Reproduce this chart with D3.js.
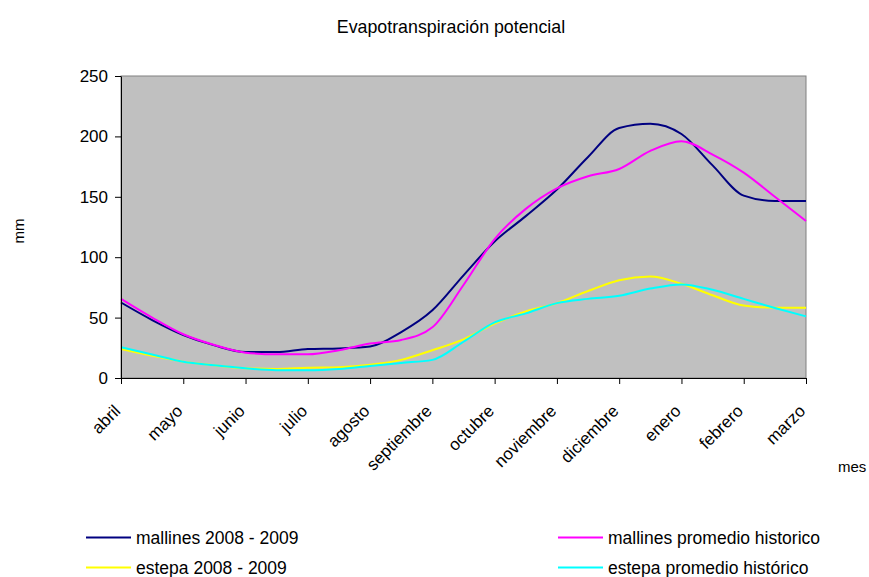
<!DOCTYPE html>
<html>
<head>
    <meta charset="utf-8">
    <title>Evapotranspiración potencial</title>
    <script src="https://d3js.org/d3.v7.min.js"></script>
    <style>
        body { margin: 0; background: #fff; }
        text { font-family: "Liberation Sans", Arial, sans-serif; fill: #000; }
        .serie { fill: none; stroke-width: 2; }
        .axis path, .axis line { stroke: #000; }
    </style>
</head>
<body>
    <div id="grafico"></div>

    <script>
        // meses (etiquetas del eje x); hay un dato a inicio y a mitad de cada mes
        const meses = ["abril", "mayo", "junio", "julio", "agosto", "septiembre",
                       "octubre", "noviembre", "diciembre", "enero", "febrero", "marzo"];

        // valores (mm), 23 puntos
        const mallines2008 = [62.5, 48, 35.6, 27, 21.5, 21.5, 24, 24.5, 26, 38, 56, 85,
                              113, 134, 156, 183, 207, 210.5, 202, 176, 151, 146.5, 146.5];
        const mallinesHist = [65.5, 50, 36.2, 27.3, 21, 19.6, 19.6, 23, 28.5, 31.5, 42, 77,
                              115, 140, 157, 167, 173, 188, 196, 185, 170, 150, 130];
        const estepa2008   = [24, 18.5, 13.5, 10.5, 8, 7.5, 8.5, 9, 11, 15, 23, 32,
                              45, 55, 62, 72, 81, 84, 78, 68.5, 60, 58.2, 58.2];
        const estepaHist   = [25.5, 19.5, 13.5, 10.5, 8, 6.5, 6.5, 7.5, 10, 12.5, 15, 30,
                              46, 53.5, 62, 65.5, 68, 74, 77.5, 73, 65.5, 58, 51];

        const nombres = ["mallines 2008 - 2009", "mallines promedio historico",
                         "estepa 2008 - 2009", "estepa promedio histórico"];
        const colores = ["#000080", "#ff00ff", "#ffff00", "#00ffff"];
        const ticksY = [0, 50, 100, 150, 200, 250];

        const series = [mallines2008, mallinesHist, estepa2008, estepaHist];

        const width = 869, height = 577;
        const margin = { left: 121, right: 63, top: 76, bottom: 199 };

        const svg = d3.select("#grafico").append("svg")
            .attr("width", width)
            .attr("height", height);

        const x = d3.scalePoint()
            .domain(d3.range(mallines2008.length))
            .range([margin.left, width - margin.right]);

        const y = d3.scaleLinear()
            .domain([0, 250])
            .range([height - margin.bottom, margin.top]);

        // área del gráfico
        svg.append("rect")
            .attr("x", margin.left)
            .attr("y", margin.top)
            .attr("width", width - margin.right - margin.left)
            .attr("height", height - margin.bottom - margin.top)
            .style("fill", "#c0c0c0")
            .style("stroke", "#808080")
            .style("stroke-width", 1);

        // título
        svg.append("text")
            .attr("x", 451)
            .attr("y", 33)
            .attr("text-anchor", "middle")
            .style("font-size", "17.8px")
            .text("Evapotranspiración potencial");

        // líneas
        const linea = d3.line()
            .x((d, i) => x(i))
            .y(d => y(d))
            .curve(d3.curveMonotoneX);

        series.forEach((s, k) => {
            svg.append("path")
                .datum(s)
                .attr("class", "serie")
                .attr("d", linea)
                .style("stroke", colores[k]);
        });

        // eje y
        const ejeY = svg.append("g")
            .attr("class", "axis")
            .attr("transform", `translate(${margin.left},0)`)
            .call(d3.axisLeft(y).tickValues(ticksY).tickSize(6).tickSizeOuter(0).tickPadding(7));
        ejeY.selectAll("text").style("font-size", "17px");

        // eje x
        const ejeX = svg.append("g")
            .attr("class", "axis")
            .attr("transform", `translate(0,${height - margin.bottom})`)
            .call(d3.axisBottom(x)
                .tickValues(d3.range(0, mallines2008.length, 2))
                .tickFormat(i => meses[i / 2])
                .tickSize(6)
                .tickSizeOuter(0));
        ejeX.selectAll("text")
            .style("font-size", "17px")
            .attr("text-anchor", "end")
            .attr("dy", null)
            .attr("y", 0)
            .attr("transform", "translate(0,34) rotate(-45)");

        // títulos de ejes
        svg.append("text")
            .attr("transform", "translate(24,231) rotate(-90)")
            .attr("text-anchor", "middle")
            .style("font-size", "15px")
            .text("mm");

        svg.append("text")
            .attr("x", 838)
            .attr("y", 472)
            .style("font-size", "15px")
            .text("mes");

        // leyenda
        const posLeyenda = [[86, 537.5], [558, 537.5], [86, 567.5], [558, 567.5]];
        nombres.forEach((n, k) => {
            const [lx, ly] = posLeyenda[k];
            svg.append("line")
                .attr("x1", lx).attr("x2", lx + 45)
                .attr("y1", ly).attr("y2", ly)
                .style("stroke", colores[k])
                .style("stroke-width", 2);
            svg.append("text")
                .attr("x", lx + 50)
                .attr("y", ly + 6.5)
                .style("font-size", "17.5px")
                .text(n);
        });
    </script>
</body>
</html>
